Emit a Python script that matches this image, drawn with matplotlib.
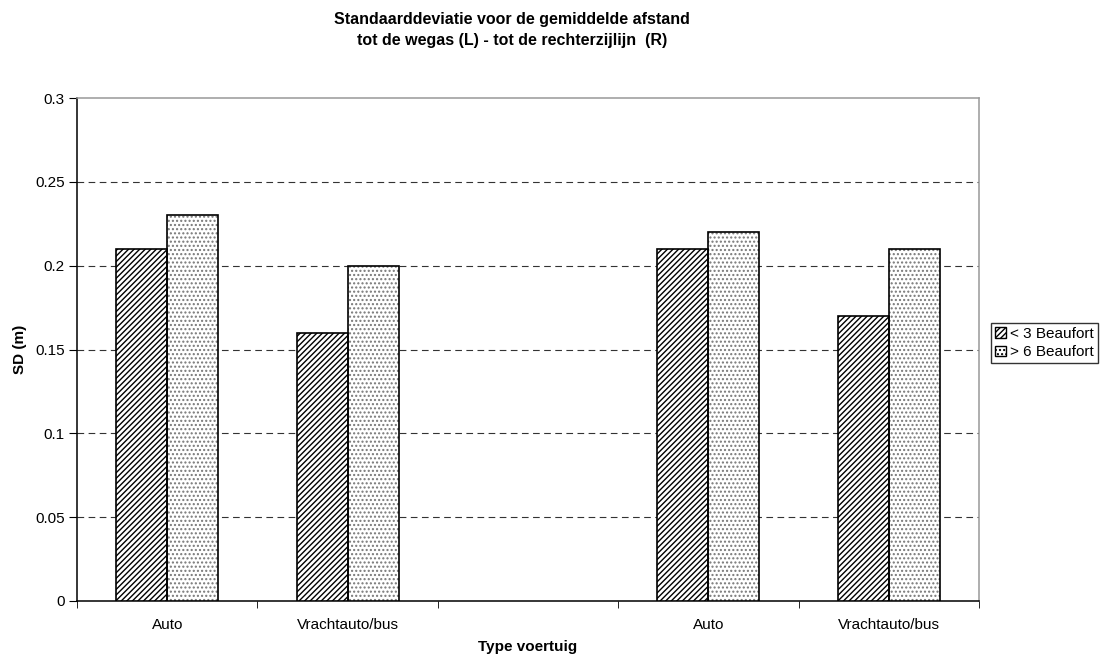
import numpy as np
import matplotlib.pyplot as plt
from matplotlib.patches import Patch

plt.rcParams['font.family'] = ['Liberation Sans', 'DejaVu Sans']
plt.rcParams['hatch.linewidth'] = 1.0

categories = ['Auto', 'Vrachtauto/bus', '', 'Auto', 'Vrachtauto/bus']
calm = [0.21, 0.16, np.nan, 0.21, 0.17]      # < 3 Beaufort
windy = [0.23, 0.20, np.nan, 0.22, 0.21]     # > 6 Beaufort
series_labels = ['< 3 Beaufort', '> 6 Beaufort']
yticks = [0, 0.05, 0.1, 0.15, 0.2, 0.25, 0.3]

fig = plt.figure(figsize=(11.04, 6.62), dpi=100)
ax = fig.add_axes([77 / 1104, 1 - 601 / 662, 902 / 1104, 503 / 662])

x = np.arange(len(categories))
w = 0.283

# hatched bars: pattern layer first, black outline on top
ax.bar(x - w / 2, calm, w, color='white', edgecolor='black', hatch='//////',
       linewidth=0, zorder=3)
ax.bar(x - w / 2, calm, w, fill=False, edgecolor='black', linewidth=1.2, zorder=4)
ax.bar(x + w / 2, windy, w, color='white', edgecolor='#777777', hatch='....',
       linewidth=0, zorder=3)
ax.bar(x + w / 2, windy, w, fill=False, edgecolor='black', linewidth=1.2, zorder=4)

ax.set_xlim(-0.5, len(categories) - 0.5)
ax.set_ylim(0, 0.3)
ax.set_yticks(yticks)
ax.set_yticklabels(['0', '0.05', '0.1', '0.15', '0.2', '0.25', '0.3'])
ax.set_xticks(x)
ax.set_xticklabels(categories)
ax.set_xticks(np.arange(len(categories) + 1) - 0.5, minor=True)
ax.tick_params(axis='x', which='major', length=0, pad=12, labelsize=11)
ax.tick_params(axis='x', which='minor', length=5, direction='out', color='black')
ax.tick_params(axis='y', length=6, direction='out', labelsize=11, pad=3)

for yv in yticks[1:-1]:
    ax.axhline(yv, color='#333333', linestyle=(0, (6, 4)), linewidth=0.8, zorder=1)

ax.spines['left'].set_color('black')
ax.spines['bottom'].set_color('black')
ax.spines['top'].set_color('#999999')
ax.spines['right'].set_color('#999999')
for s in ax.spines.values():
    s.set_linewidth(1.1)

ax.set_ylabel('SD (m)', fontsize=11, fontweight='bold', labelpad=6)
ax.set_xlabel('Type voertuig', fontsize=11, fontweight='bold', labelpad=6)

fig.text(512 / 1104, 1 - 30 / 662,
         'Standaarddeviatie voor de gemiddelde afstand\ntot de wegas (L) - tot de rechterzijlijn  (R)',
         ha='center', va='center', fontsize=11.5, fontweight='bold', linespacing=1.45)

handles = [Patch(facecolor='white', edgecolor='black', hatch='//////'),
           Patch(facecolor='white', edgecolor='black', hatch='....')]
leg = fig.legend(handles, series_labels, loc='center left',
                 bbox_to_anchor=(991 / 1104, 1 - 343 / 662), fontsize=11,
                 frameon=True, fancybox=False, edgecolor='black',
                 handlelength=0.7, handleheight=0.7, handletextpad=0.3,
                 borderpad=0.25, labelspacing=0.3, borderaxespad=0)
leg.get_frame().set_linewidth(1.0)

fig.savefig('out.png', dpi=100)
